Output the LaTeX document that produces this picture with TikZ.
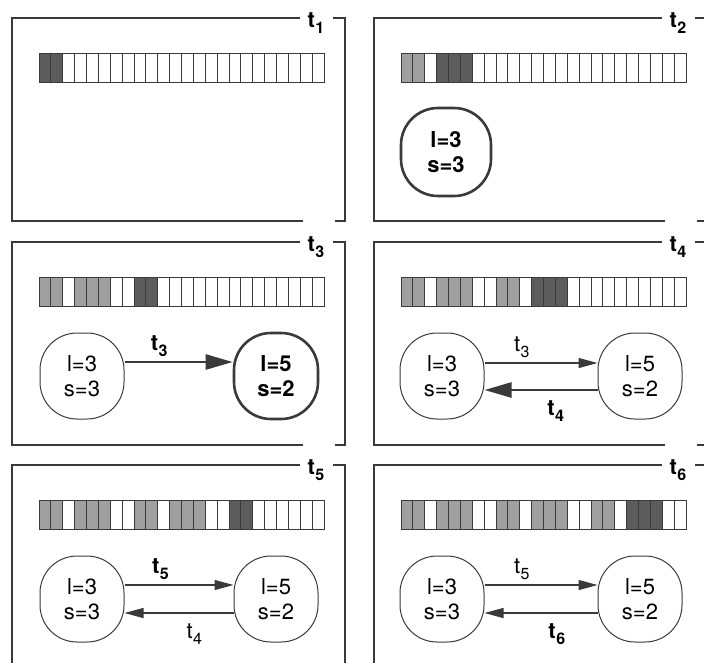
\documentclass[tikz,border=0pt]{standalone}
\usepackage{fontspec}
\setmainfont{TeX Gyre Heros}
\usetikzlibrary{arrows.meta,calc}

\definecolor{ink}{HTML}{3A3A3A}
% cell fills: 0 empty, 1 visited, 2 current
\definecolor{c0}{HTML}{FFFFFF}
\definecolor{c1}{HTML}{A0A0A0}
\definecolor{c2}{HTML}{5C5C5C}

\tikzset{
  frame/.style={draw=ink, line width=1.3pt},
  cellbox/.style={draw=ink, line width=1pt},
  state/.style={draw=ink, line width=1pt, rectangle, rounded corners=37pt,
    minimum width=84pt, minimum height=86pt, align=center, inner sep=0pt,
    font=\fontsize{22}{25}\selectfont},
  newstate/.style={state, line width=2.6pt,
    font=\fontsize{22}{25}\selectfont\bfseries},
  trans/.style={draw=ink, line width=1.1pt, -{Triangle[length=19pt,width=10pt]}},
  newtrans/.style={draw=ink, line width=2.6pt, -{Triangle[length=27pt,width=15pt]}},
  tlabel/.style={inner sep=0pt, font=\fontsize{22}{22}\selectfont},
  newtlabel/.style={inner sep=0pt, font=\fontsize{22}{22}\selectfont\bfseries},
  paneltitle/.style={inner sep=0pt, font=\fontsize{22}{22}\selectfont\bfseries},
}

% time label t with a subscript index
\newcommand\tix[1]{t\kern0.5pt\raisebox{-6pt}{\fontsize{16}{16}\selectfont #1}}

% open frame of one panel: x, y of top-left corner, index
\newcommand\panelframe[3]{%
  \draw[frame] (#1+288,#2) -- (#1,#2) -- (#1,#2+203) -- (#1+291,#2+203);
  \draw[frame] (#1+321,#2) -- (#1+333,#2) -- (#1+333,#2+203) -- (#1+323,#2+203);
  \node[paneltitle] (title#3) at (#1+304,#2+5) {\tix{#3}};
}

% strip of 24 cells: x, y of the panel, list of cell states
\newcommand\cellstrip[3]{%
  \foreach \c [count=\i from 0] in {#3} {
    \draw[cellbox, fill=c\c] ({#1+27+\i*11.875},{#2+35}) rectangle ++(11.875,29);
  }
}

\begin{document}
\begin{tikzpicture}[x=1pt,y=-1pt]
\useasboundingbox (0,0) rectangle (704,662);
\clip (0,0) rectangle (704,662);

% ---- t1
\panelframe{12}{18}{1}
\cellstrip{12}{18}{2,2,0,0,0,0,0,0,0,0,0,0,0,0,0,0,0,0,0,0,0,0,0,0}

% ---- t2
\panelframe{374}{18}{2}
\cellstrip{374}{18}{1,1,0,2,2,2,0,0,0,0,0,0,0,0,0,0,0,0,0,0,0,0,0,0}
\node[newstate, minimum width=90pt, minimum height=88pt] (p2a) at (446,152) {l=3\\s=3};

% ---- t3
\panelframe{12}{242}{3}
\cellstrip{12}{242}{1,1,0,1,1,1,0,0,2,2,0,0,0,0,0,0,0,0,0,0,0,0,0,0}
\node[state] (p3a) at (82,376) {l=3\\s=3};
\node[newstate] (p3b) at (276,376) {l=5\\s=2};
\draw[newtrans] ($(p3a.east)+(0,-14)$) --
  node[newtlabel, pos=0.32, yshift=16pt] (p3t) {\tix{3}} ($(p3b.west)+(0,-14)$);

% ---- t4
\panelframe{374}{242}{4}
\cellstrip{374}{242}{1,1,0,1,1,1,0,0,1,1,0,2,2,2,0,0,0,0,0,0,0,0,0,0}
\node[state] (p4a) at (442,376) {l=3\\s=3};
\node[state] (p4b) at (640,376) {l=5\\s=2};
\draw[trans] ($(p4a.east)+(0,-13)$) --
  node[tlabel, pos=0.33, yshift=16pt] (p4t) {\tix{3}} ($(p4b.west)+(0,-13)$);
\draw[newtrans] ($(p4b.west)+(0,14)$) --
  node[newtlabel, pos=0.37, yshift=-21pt] (p4u) {\tix{4}} ($(p4a.east)+(0,14)$);

% ---- t5
\panelframe{12}{465}{5}
\cellstrip{12}{465}{1,1,0,1,1,1,0,0,1,1,0,1,1,1,0,0,2,2,0,0,0,0,0,0}
\node[state] (p5a) at (82,599) {l=3\\s=3};
\node[state] (p5b) at (276,599) {l=5\\s=2};
\draw[trans] ($(p5a.east)+(0,-14)$) --
  node[newtlabel, pos=0.33, yshift=16pt] (p5t) {\tix{5}} ($(p5b.west)+(0,-14)$);
\draw[trans] ($(p5b.west)+(0,14)$) --
  node[tlabel, pos=0.36, yshift=-21pt] (p5u) {\tix{4}} ($(p5a.east)+(0,14)$);

% ---- t6
\panelframe{374}{465}{6}
\cellstrip{374}{465}{1,1,0,1,1,1,0,0,1,1,0,1,1,1,0,0,1,1,0,2,2,2,0,0}
\node[state] (p6a) at (442,599) {l=3\\s=3};
\node[state] (p6b) at (640,599) {l=5\\s=2};
\draw[trans] ($(p6a.east)+(0,-14)$) --
  node[tlabel, pos=0.33, yshift=16pt] (p6t) {\tix{5}} ($(p6b.west)+(0,-14)$);
\draw[trans] ($(p6b.west)+(0,14)$) --
  node[newtlabel, pos=0.36, yshift=-21pt] (p6u) {\tix{6}} ($(p6a.east)+(0,14)$);
\end{tikzpicture}
\end{document}
